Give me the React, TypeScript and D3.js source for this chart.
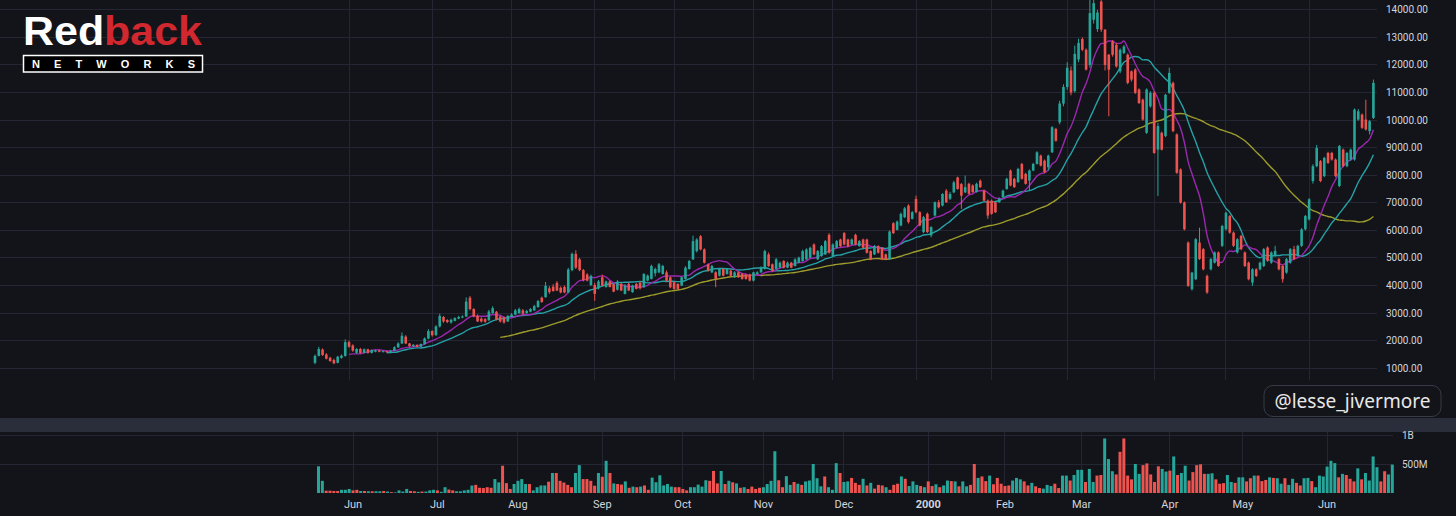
import React from "react";
import * as d3 from "d3";

// ---- Daily OHLC (price) and volume (millions), one value per trading day from 1999-05-18 ----
const opens: number[] = [
  1200,1450,1680,1500,1380,1300,1200,1380,1450,
  1950,1830,1560,1700,1560,1690,1560,1600,1650,1600,1620,1600,1640,1760,1900,2150,1900,1800,1850,1780,1880,2080,
  2350,2200,2520,2860,2750,2660,2720,2800,2840,2880,3560,3150,2900,2800,2780,2740,3000,3050,2880,2850,2700,
  2880,2950,3000,3100,3000,3050,3100,3220,3560,3580,3900,3960,4100,3920,3950,3750,4560,5150,4950,4560,4400,4020,
  4020,3900,4300,3950,4150,4050,3850,4060,3700,4060,3760,4060,4100,3940,4180,4240,4450,4480,4420,4480,4300,
  4120,4060,4000,4240,4600,4950,5250,5790,5310,4770,4480,4480,4360,4600,4420,4540,4300,4480,4420,4400,4400,
  4180,4420,4480,4600,5130,4770,4600,4650,4890,4650,4830,4710,4830,4890,4950,5010,5490,4950,5070,5130,5840,
  5070,5370,5670,5900,5670,5490,5840,5430,5670,5670,5250,5130,5430,5370,5130,4950,6260,6020,6180,6480,6900,6420,
  7140,6660,5940,6600,5820,6540,7020,6900,7440,7150,7380,7920,7680,7380,7690,7630,7390,7800,7440,7080,
  7080,7020,7020,7200,7500,8170,7870,7750,8410,8050,7810,8170,8410,8710,8530,8290,8830,9680,9920,10600,
  11200,11800,11050,12200,12940,12550,12000,13640,13300,14300,13280,12370,12850,12730,11770,12430,12370,11770,11830,11110,10740,9540,10500,
  10990,8930,9540,9420,10990,11350,9480,8210,7010,5560,3870,4230,5560,5320,4350,4590,4830,5200,5440,
  6040,6520,5920,5200,5800,5200,4830,4110,4590,4590,4710,5380,4830,5080,4960,4710,4470,4830,5320,5080,5440,6040,
  6400,7790,8330,8510,7970,8810,8810,8570,7610,8930,8330,8570,8570,10020,10200,10020,9600,10080,
];
const highs: number[] = [
  1500,1780,1720,1550,1420,1350,1450,1500,2050,
  2000,1870,1730,1740,1720,1710,1690,1680,1670,1650,1640,1670,1800,1950,2300,2200,1920,1880,1870,1900,2120,2420,
  2380,2560,2980,2900,2780,2800,2850,2900,2920,3570,3620,3180,2950,2850,2820,3120,3250,3080,2900,2880,2930,
  3000,3150,3200,3150,3120,3180,3300,3480,3600,4130,3980,4050,4160,3970,4000,4640,5200,5280,5000,4600,4450,4400,
  4100,4200,4400,4180,4180,4080,4200,4100,4050,4100,4030,4090,4150,4450,4400,4760,4650,4820,4750,4550,4330,
  4150,4080,4330,4700,4930,5810,5720,5830,5350,4800,4750,4520,4640,4630,4630,4580,4520,4510,4450,4430,4430,
  4500,4520,4700,5300,5200,4800,5000,4870,4920,4870,4860,4990,5050,5300,5350,5410,5530,5290,5470,5650,5900,
  5530,5650,5700,5940,5700,5710,5880,5650,5700,5700,5280,5470,5460,5400,5160,6000,6300,6360,6650,6850,6950,6700,
  7260,6700,6520,6650,6150,7050,7100,7350,7500,7400,7800,7950,7720,7990,7730,7670,7730,7850,7480,7120,
  7120,7060,7190,7480,7910,8210,7910,8270,8450,8090,8210,8450,8870,8750,8570,8750,9780,9720,10700,11300,
  12100,11950,12700,12950,13000,12600,14360,14400,14000,14400,13300,12400,12900,12800,12600,12720,12420,11800,11880,11150,10780,11150,11050,
  11050,9900,9580,10950,11900,11400,9520,8250,7050,5600,4500,5720,6100,5360,4400,5000,5240,5240,6200,
  6680,6560,5960,5720,5840,5240,4870,4630,4630,4870,5360,5420,5240,5440,5000,4750,5000,5360,5440,5480,6080,6560,
  7170,8400,9100,8550,8670,8850,8850,8610,9100,8970,8850,8970,10420,10400,10240,10740,10000,11470,
];
const lows: number[] = [
  1150,1430,1450,1320,1240,1150,1180,1350,1420,
  1750,1600,1530,1530,1540,1530,1540,1580,1580,1580,1570,1580,1620,1740,1880,1880,1780,1780,1760,1770,1860,2050,
  2150,2180,2480,2650,2640,2620,2700,2780,2820,2860,3100,2850,2680,2660,2650,2720,2980,2740,2660,2620,2680,
  2860,2930,2980,2950,2980,3030,3080,3200,3380,3560,3700,3780,3800,3720,3720,3720,4520,4600,4520,4150,4150,3980,
  3450,3860,3980,3920,3930,3760,3820,3800,3680,3800,3740,3860,3860,3920,4150,4220,4330,4450,4400,4150,3900,
  3850,3850,3980,4220,4580,4930,5200,5280,4800,4500,4450,3940,4330,4330,4400,4330,4280,4280,4210,4210,4150,
  4150,4400,4460,4580,4680,4500,4580,4630,4620,4630,4630,4690,4810,4870,4930,4990,5100,4930,5050,5110,5160,
  5050,5350,5400,5460,5400,5470,5460,5410,5340,5160,4920,5110,5160,4920,4920,4930,5870,6000,6150,6450,6250,6400,
  6620,6150,5900,5900,5750,6500,6800,6870,7000,7100,7350,7480,6780,7350,7300,7360,7370,7540,7050,6420,
  6570,6630,7000,7180,7480,7600,7540,7730,7840,7660,7450,8150,8390,8320,8080,8170,8810,9220,9850,10500,
  11100,10900,11000,12100,12500,11800,11900,13500,13200,13200,11800,10140,12300,11900,11700,12400,11300,11400,10950,10580,9980,9500,10450,
  8780,7250,8900,9380,10950,9560,8050,6970,6000,3950,3820,4200,4930,4550,3700,4550,4800,4680,5400,
  6000,5880,5400,5160,5280,4670,4190,3990,4310,4550,4670,4860,4790,5040,4550,4110,4430,4790,4920,5040,5400,6000,
  6360,7700,8290,7750,7930,8410,8530,7930,7570,8290,8290,8530,8530,9980,9680,9620,9480,10040,
];
const closes: number[] = [
  1450,1700,1480,1350,1260,1180,1420,1460,1950,
  1780,1640,1700,1560,1690,1560,1660,1650,1600,1620,1600,1640,1760,1900,2180,1900,1800,1850,1780,1880,2080,2350,
  2200,2520,2900,2700,2680,2760,2820,2860,2880,3420,3150,2880,2700,2700,2690,3060,3180,2760,2700,2660,2900,
  2950,3100,3150,2980,3080,3150,3250,3440,3400,3990,3760,3800,3820,3750,3750,4580,5150,4650,4560,4200,4180,4350,
  3700,4150,4000,4150,3950,3780,4100,3820,4000,3820,4000,3880,3900,4420,4360,4710,4600,4770,4710,4180,3940,
  3880,3880,4300,4650,4890,5610,5670,5310,4830,4540,4710,4240,4600,4360,4600,4360,4480,4300,4240,4240,4180,
  4480,4480,4650,5250,4710,4540,4950,4830,4650,4830,4650,4950,5010,5250,5310,5370,5130,5250,5430,5610,5190,
  5490,5610,5430,5490,5430,5670,5490,5610,5370,5190,4950,5430,5190,4950,4950,5960,5900,6320,6600,6800,6300,6660,
  6660,6180,6480,5940,6120,7020,6840,7320,7020,7320,7740,7500,7260,7570,7330,7390,7690,7570,7080,6540,
  6600,6660,7150,7440,7870,7630,7570,8230,7870,7690,8170,8410,8830,8350,8110,8710,9740,9250,10600,11200,
  11900,11000,12400,12800,12550,11830,13880,14240,13900,13280,12000,11830,12370,11950,12550,12670,11350,11470,10990,10620,10020,11110,10990,
  8810,9780,8930,10920,11710,9600,8090,7010,6040,3990,4470,5680,4960,4590,3750,4960,5200,4710,6160,
  6640,5920,5440,5680,5320,4710,4230,4590,4350,4830,5320,4900,5200,5260,4590,4230,4960,5320,4960,5440,6040,6520,
  7130,8330,8990,7790,8630,8450,8570,7970,9060,8330,8810,8930,10380,10320,9720,9660,9960,11350,
];
const volumesM: number[] = [
  460,210,40,40,35,35,55,55,70,
  45,55,35,35,30,30,30,30,35,25,15,10,45,25,70,35,30,20,25,25,45,55,
  45,20,100,60,45,30,30,45,55,128,140,90,85,100,90,240,183,470,170,70,155,
  210,240,155,155,45,100,130,130,195,345,345,210,180,140,100,345,480,240,240,210,125,345,
  280,555,345,165,155,145,200,90,110,100,110,130,55,265,185,305,130,155,110,100,100,
  70,45,100,100,145,110,220,210,380,165,380,155,210,185,165,90,100,70,110,70,90,
  100,155,210,720,220,100,290,140,190,160,140,200,215,500,255,115,285,100,55,515,345,
  190,200,260,175,140,245,130,175,75,140,130,100,55,140,160,285,245,120,200,140,120,100,
  200,120,150,100,130,215,205,200,115,200,115,140,500,260,285,205,300,150,260,160,
  120,130,215,260,235,200,130,175,115,85,75,140,120,160,85,300,300,215,310,400,
  400,190,415,190,300,310,940,585,375,320,710,940,300,235,500,330,480,510,320,190,460,415,370,
  385,630,310,345,470,215,360,480,495,330,330,340,235,160,170,310,190,175,270,
  270,200,255,300,300,205,225,270,260,255,160,255,140,245,175,130,255,260,205,100,300,285,
  455,555,515,270,330,310,245,200,425,235,345,215,630,445,200,375,320,490,
];

// ---- Calendar / ticks ----
const FIRST_DAY = [1999, 4, 18];
const HOLIDAYS = [
  "1999-05-31", "1999-07-05", "1999-09-06", "1999-11-25", "1999-12-24",
  "2000-01-17", "2000-02-21", "2000-04-21", "2000-05-29",
];
const MONTH_NAMES = ["Jan", "Feb", "Mar", "Apr", "May", "Jun", "Jul", "Aug", "Sep", "Oct", "Nov", "Dec"];
const PRICE_TICKS = [1000, 2000, 3000, 4000, 5000, 6000, 7000, 8000, 9000, 10000, 11000, 12000, 13000, 14000];
const VOLUME_TICKS = [500, 1000];
const VOLUME_TICK_LABELS = ["500M", "1B"];
const MA_PERIODS = [50, 20, 10];
const MA_COLORS = ["#9c9b2c", "#25a1a7", "#9c27b0"];

function tradingDays(n: number): Date[] {
  const out: Date[] = [];
  const d = new Date(Date.UTC(FIRST_DAY[0], FIRST_DAY[1], FIRST_DAY[2]));
  while (out.length < n) {
    const dow = d.getUTCDay();
    const iso = d.toISOString().slice(0, 10);
    if (dow !== 0 && dow !== 6 && !HOLIDAYS.includes(iso)) out.push(new Date(d));
    d.setUTCDate(d.getUTCDate() + 1);
  }
  return out;
}

function sma(values: number[], p: number): (number | null)[] {
  return values.map((_, i) => (i < p - 1 ? null : (d3.mean(values.slice(i - p + 1, i + 1)) as number)));
}

const W = 1456;
const H = 516;
const BG = "#131419";
const GRID = "#242733";
const UP = "#26a69a";
const DOWN = "#ef5350";
const TEXT = "#d1d4dc";
const FONT = "Roboto, 'Noto Sans', sans-serif";

export default function App() {
  const n = closes.length;
  const dates = tradingDays(n);

  const xP = d3.scaleLinear().domain([0, n - 1]).range([315, 1373.4]);
  const xV = d3.scaleLinear().domain([0, n - 1]).range([318.5, 1392.3]);
  const yP = d3.scaleLinear().domain([1000, 14000]).range([368.3, 9.8]);
  const yV = d3.scaleLinear().domain([0, 1000]).range([493, 435]);

  const monthStarts: number[] = [];
  for (let i = 1; i < n; i++) {
    if (dates[i].getUTCMonth() !== dates[i - 1].getUTCMonth()) monthStarts.push(i);
  }

  const bodyW = 2.6;
  const volW = 3.0;
  const fmt = d3.format(".2f");

  const lens = [opens.length, highs.length, lows.length, closes.length, volumesM.length];
  const bad = lens.some((l) => l !== n);

  return (
    <svg
      width={W}
      height={H}
      style={{ position: "fixed", left: 0, top: 0, background: BG, display: "block" }}
    >
      <rect x={0} y={0} width={W} height={H} fill={BG} />

      {/* price pane grid */}
      <g shapeRendering="crispEdges" stroke={GRID} strokeWidth={1}>
        {PRICE_TICKS.map((t) => (
          <line key={"hp" + t} x1={0} x2={1377} y1={yP(t)} y2={yP(t)} />
        ))}
        {monthStarts.map((i) => (
          <line key={"vp" + i} x1={xP(i)} x2={xP(i)} y1={0} y2={380} />
        ))}
      </g>

      {/* volume pane grid */}
      <g shapeRendering="crispEdges" stroke={GRID} strokeWidth={1}>
        {VOLUME_TICKS.map((t) => (
          <line key={"hv" + t} x1={0} x2={1393} y1={yV(t)} y2={yV(t)} />
        ))}
        {monthStarts.map((i) => (
          <line key={"vv" + i} x1={xV(i)} x2={xV(i)} y1={432} y2={494} />
        ))}
      </g>

      {/* moving averages */}
      {MA_PERIODS.map((p, k) => {
        const vals = sma(closes, p);
        const line = d3
          .line<number | null>()
          .defined((v) => v != null)
          .x((_, i) => xP(i))
          .y((v) => yP(v as number))
          .curve(d3.curveMonotoneX);
        return (
          <path key={"ma" + p} d={line(vals) || ""} fill="none" stroke={MA_COLORS[k]} strokeWidth={1.4} />
        );
      })}

      {/* candles */}
      <g>
        {closes.map((c, i) => {
          const o = opens[i];
          const up = c >= o;
          const col = up ? UP : DOWN;
          const x = xP(i);
          const top = yP(Math.max(o, c));
          const bot = yP(Math.min(o, c));
          return (
            <g key={"c" + i}>
              <line
                x1={x}
                x2={x}
                y1={yP(Math.max(highs[i], o, c))}
                y2={yP(Math.min(lows[i], o, c))}
                stroke={col}
                strokeWidth={1}
              />
              <rect x={x - bodyW / 2} y={top} width={bodyW} height={Math.max(1, bot - top)} fill={col} />
            </g>
          );
        })}
      </g>

      {/* volume bars */}
      <g>
        {volumesM.map((v, i) => {
          const up = closes[i] >= opens[i];
          return (
            <rect
              key={"v" + i}
              x={xV(i) - volW / 2}
              y={yV(v)}
              width={volW}
              height={yV(0) - yV(v)}
              fill={up ? UP : DOWN}
            />
          );
        })}
      </g>

      {/* separator band */}
      <rect x={0} y={418} width={W} height={14} fill="#2a2e3b" />

      {/* price axis labels */}
      {PRICE_TICKS.map((t) => (
        <text key={"pl" + t} x={1386} y={yP(t)} dy="0.35em" fill={TEXT} fontSize={10} fontFamily={FONT}>
          {fmt(t)}
        </text>
      ))}

      {/* volume axis labels */}
      {VOLUME_TICKS.map((t, k) => (
        <text key={"vl" + t} x={1402} y={yV(t)} dy="0.35em" fill={TEXT} fontSize={10} fontFamily={FONT}>
          {VOLUME_TICK_LABELS[k]}
        </text>
      ))}

      {/* month labels */}
      {monthStarts.map((i) => {
        const m = dates[i].getUTCMonth();
        const isYear = m === 0;
        return (
          <text
            key={"ml" + i}
            x={xV(i)}
            y={508}
            textAnchor="middle"
            fill={TEXT}
            fontSize={11}
            fontWeight={isYear ? "bold" : "normal"}
            fontFamily={FONT}
          >
            {isYear ? String(dates[i].getUTCFullYear()) : MONTH_NAMES[m]}
          </text>
        );
      })}

      {/* watermark */}
      <rect x={1264} y={385.5} width={177} height={31} rx={9} fill={BG} stroke="#383b47" strokeWidth={1} />
      <text
        x={1352.5}
        y={407.5}
        textAnchor="middle"
        fill="#e8e8e8"
        fontSize={20}
        fontFamily="'Noto Sans', 'Open Sans', sans-serif"
        textLength={156}
        lengthAdjust="spacingAndGlyphs"
      >
        @lesse_jivermore
      </text>

      {/* logo */}
      <text
        x={23}
        y={45}
        fontFamily="'Liberation Sans', Arial, sans-serif"
        fontWeight="bold"
        fontSize={41}
        textLength={179}
        lengthAdjust="spacingAndGlyphs"
      >
        <tspan fill="#ffffff">Red</tspan>
        <tspan fill="#d0282e">back</tspan>
      </text>
      <rect x={23.5} y={55.5} width={179} height={16.5} fill="#000000" stroke="#ffffff" strokeWidth={1.5} />
      <text
        x={32}
        y={68.3}
        fill="#ffffff"
        fontSize={11}
        fontWeight="bold"
        fontFamily="'Liberation Sans', Arial, sans-serif"
        textLength={163}
        lengthAdjust="spacing"
      >
        NETWORKS
      </text>

      {bad && (
        <text x={600} y={200} fill="red" fontSize={20}>
          {"LEN " + lens.join(",") + " n=" + n}
        </text>
      )}
    </svg>
  );
}
